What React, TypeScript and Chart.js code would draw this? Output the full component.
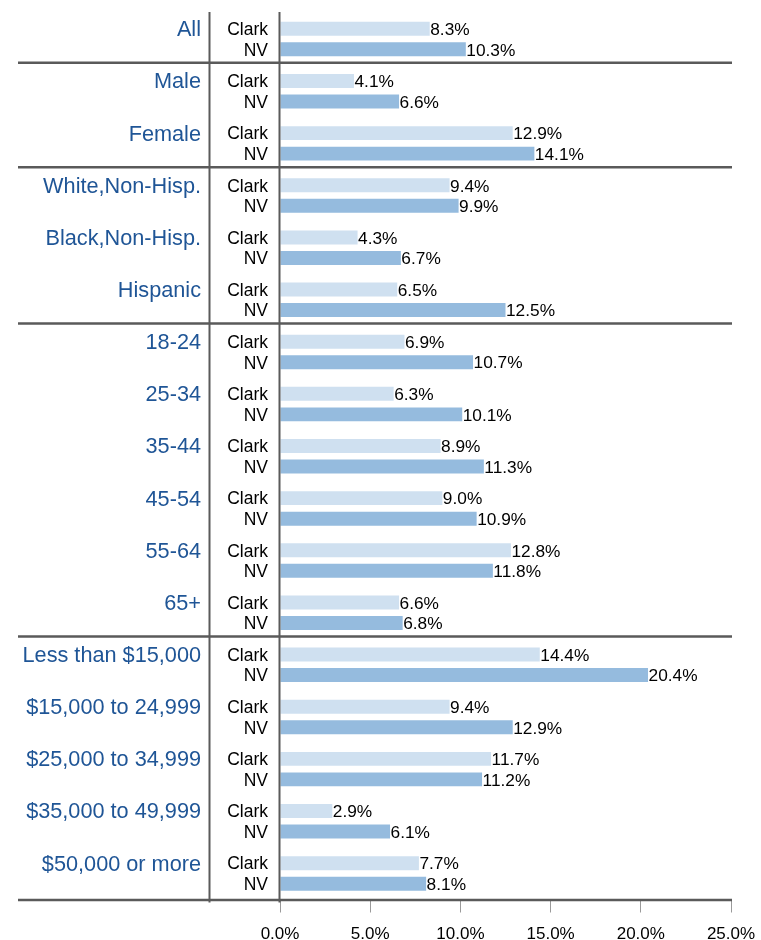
import React, { useEffect, useRef } from "react";
import { Chart, registerables } from "chart.js";

Chart.register(...registerables);

const groups = [
  "All",
  "Male",
  "Female",
  "White,Non-Hisp.",
  "Black,Non-Hisp.",
  "Hispanic",
  "18-24",
  "25-34",
  "35-44",
  "45-54",
  "55-64",
  "65+",
  "Less than $15,000",
  "$15,000 to 24,999",
  "$25,000 to 34,999",
  "$35,000 to 49,999",
  "$50,000 or more",
];
const seriesNames = ["Clark", "NV"];
const clarkValues = [8.3, 4.1, 12.9, 9.4, 4.3, 6.5, 6.9, 6.3, 8.9, 9.0, 12.8, 6.6, 14.4, 9.4, 11.7, 2.9, 7.7];
const nvValues = [10.3, 6.6, 14.1, 9.9, 6.7, 12.5, 10.7, 10.1, 11.3, 10.9, 11.8, 6.8, 20.4, 12.9, 11.2, 6.1, 8.1];
// separator line drawn after these group indices
const sectionEnds = [0, 2, 5, 11];
const xMin = 0;
const xMax = 25;
const xStep = 5;

const FONT = "'Liberation Sans', Arial, sans-serif";
const LINE_COLOR = "#5a5a5a";

const overlayPlugin = {
  id: "overlay",
  afterDatasetsDraw(chart: any) {
    const ctx = chart.ctx;
    const area = chart.chartArea;
    const yScale = chart.scales.y;
    const m0 = chart.getDatasetMeta(0);
    const m1 = chart.getDatasetMeta(1);
    ctx.save();

    // value labels + series labels
    [m0, m1].forEach((meta: any, di: number) => {
      const vals = di === 0 ? clarkValues : nvValues;
      meta.data.forEach((bar: any, i: number) => {
        ctx.fillStyle = "#000";
        ctx.textBaseline = "middle";
        ctx.font = `17.3px ${FONT}`;
        ctx.textAlign = "left";
        ctx.fillText(vals[i].toFixed(1) + "%", bar.x + 0.5, bar.y + 1.5);
        ctx.font = `17.5px ${FONT}`;
        ctx.textAlign = "right";
        ctx.fillText(seriesNames[di], 268, bar.y + 1.5);
      });
    });

    // group labels
    ctx.font = `21.7px ${FONT}`;
    ctx.fillStyle = "#1F5596";
    ctx.textAlign = "right";
    ctx.textBaseline = "middle";
    m0.data.forEach((bar: any, i: number) => {
      ctx.fillText(groups[i], 201, bar.y + 1.5);
    });

    // horizontal separators
    ctx.strokeStyle = LINE_COLOR;
    ctx.lineWidth = 2.5;
    const hLine = (y: number) => {
      ctx.beginPath();
      ctx.moveTo(18, y);
      ctx.lineTo(732, y);
      ctx.stroke();
    };
    sectionEnds.forEach((g) => {
      const y = (yScale.getPixelForValue(g) + yScale.getPixelForValue(g + 1)) / 2 - 2.3;
      hLine(y);
    });
    hLine(area.bottom + 0.5);

    // vertical lines
    ctx.lineWidth = 2;
    [209.5, 279.5].forEach((x) => {
      ctx.beginPath();
      ctx.moveTo(x, area.top - 1);
      ctx.lineTo(x, area.bottom + 3);
      ctx.stroke();
    });
    ctx.restore();
  },
};

export default function App() {
  const ref = useRef<HTMLCanvasElement | null>(null);
  useEffect(() => {
    if (!ref.current) return;
    const chart = new Chart(ref.current, {
      type: "bar",
      data: {
        labels: groups,
        datasets: [
          {
            label: seriesNames[0],
            data: clarkValues,
            backgroundColor: "#CFE0F0",
            borderWidth: 0,
            categoryPercentage: 0.787,
            barPercentage: 0.68,
          },
          {
            label: seriesNames[1],
            data: nvValues,
            backgroundColor: "#95BBDE",
            borderWidth: 0,
            categoryPercentage: 0.787,
            barPercentage: 0.68,
          },
        ],
      },
      options: {
        indexAxis: "y",
        responsive: false,
        animation: false,
        devicePixelRatio: 1,
        layout: { padding: { left: 280, right: 30, top: 13, bottom: 0 } },
        plugins: {
          legend: { display: false },
          tooltip: { enabled: false },
          title: { display: false },
        },
        scales: {
          x: {
            type: "linear",
            position: "bottom",
            min: xMin,
            max: xMax,
            afterFit: (scale: any) => {
              scale.height = 40.5;
              scale.paddingLeft = 0;
              scale.paddingRight = 0;
            },
            ticks: {
              stepSize: xStep,
              padding: 12,
              color: "#000",
              font: { family: FONT, size: 17 },
              callback: (v: any) => Number(v).toFixed(1) + "%",
            },
            grid: {
              drawOnChartArea: false,
              drawTicks: true,
              tickLength: 13,
              color: "#9a9a9a",
              lineWidth: 1,
            },
            border: { display: false },
          },
          y: {
            type: "category",
            display: false,
            offset: true,
          },
        },
      },
      plugins: [overlayPlugin],
    } as any);
    return () => chart.destroy();
  }, []);
  return (
    <div style={{ position: "absolute", left: 0, top: 0, width: 761, height: 940, background: "#fff" }}>
      <canvas ref={ref} width={761} height={940} />
    </div>
  );
}
